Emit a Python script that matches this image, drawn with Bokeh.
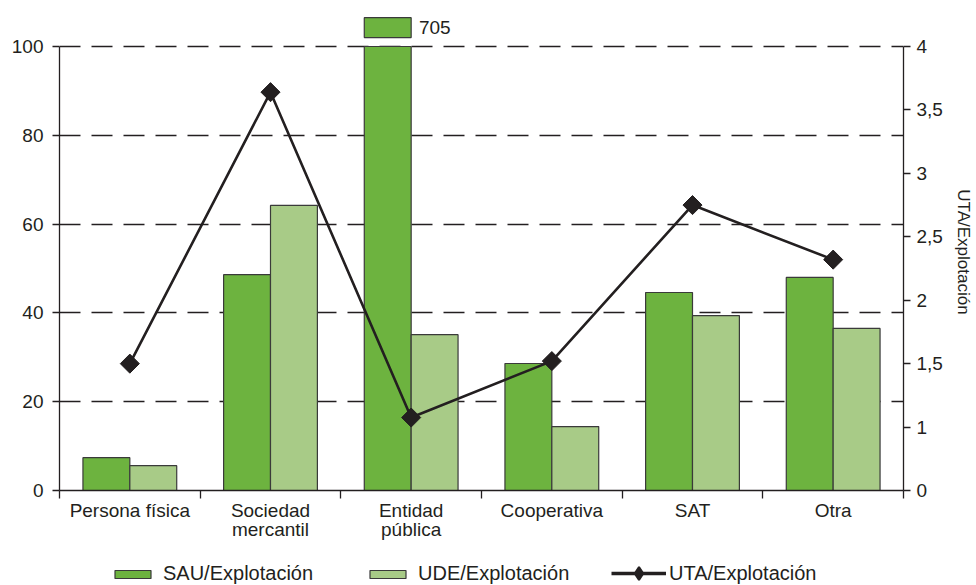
import numpy as np
from bokeh.plotting import figure
from bokeh.layouts import column
from bokeh.models import Range1d, LinearAxis, FixedTicker, Legend, LegendItem, ColumnDataSource
from bokeh.core.properties import value
from bokeh.embed import file_html
from bokeh.resources import INLINE

# ---------------- data ----------------
categories = ["Persona física", "Sociedad\nmercantil", "Entidad\npública",
              "Cooperativa", "SAT", "Otra"]
sau = [7.4, 48.6, 705, 28.6, 44.6, 48.0]      # SAU/Explotación
ude = [5.6, 64.2, 35.1, 14.4, 39.4, 36.5]     # UDE/Explotación
uta = [1.5, 3.64, 1.075, 1.52, 2.75, 2.32]    # UTA/Explotación (right axis)
series_names = ["SAU/Explotación", "UDE/Explotación", "UTA/Explotación"]
left_ticks = [0, 20, 40, 60, 80, 100]
right_ticks = [0.5, 1, 1.5, 2, 2.5, 3, 3.5, 4]
right_labels = ["0", "1", "1,5", "2", "2,5", "3", "3,5", "4"]
left_max = 100

# ---------------- styling ----------------
FONT = "Liberation Sans"
INK = "#231f20"
DARK = "#6db33f"
LIGHT = "#a8cb87"
EDGE = "#3a3a3a"

n = len(categories)
centers = np.arange(n) + 0.5
bw = 1.0 / 3.0
frame_h = 477
y_end = frame_h * left_max / 444.0
uta_end = 0.5 + frame_h * 3.5 / 444.0

p = figure(width=976, height=550, output_backend="svg", toolbar_location=None,
           x_range=Range1d(0, n), y_range=Range1d(0, y_end),
           min_border_left=59, min_border_right=73, min_border_top=13,
           min_border_bottom=60, x_axis_location="below")
p.outline_line_color = None
p.background_fill_color = "white"
p.border_fill_color = "white"
p.extra_y_ranges = {"uta": Range1d(0.5, uta_end)}

# grid
p.xgrid.visible = False
p.ygrid.ticker = FixedTicker(ticks=left_ticks[1:])
p.ygrid.grid_line_color = INK
p.ygrid.grid_line_width = 1.3
p.ygrid.grid_line_dash = "21 11"

# bars
sau_arr = np.array(sau, dtype=float)
src = ColumnDataSource(dict(
    xs=centers - bw / 2, xu=centers + bw / 2,
    sau_top=np.minimum(sau_arr, left_max), ude=ude, uta=uta, xc=centers))
bar_style = dict(line_color=EDGE, line_width=1.2)
p.vbar(x="xs", top="sau_top", width=bw, source=src, fill_color=DARK, **bar_style)
p.vbar(x="xu", top="ude", width=bw, source=src, fill_color=LIGHT, **bar_style)

# clipped bar marker
over = np.where(sau_arr > left_max)[0]
for i in over:
    cx = centers[i] - bw / 2
    p.quad(left=[cx - bw / 2], right=[cx + bw / 2], bottom=[left_max * 1.02],
           top=[left_max * 1.065], fill_color=DARK, **bar_style)
    p.text(x=[cx + bw / 2 + 0.055], y=[left_max * 1.043], text=[str(int(sau[i]))],
           text_baseline="middle", text_align="left", text_color=INK,
           text_font=value(FONT), text_font_size="19px")

# line
line_style = dict(line_color=INK, line_width=2.6)
pt_style = dict(marker="square", angle=np.pi / 4, size=13.5, fill_color=INK, line_color=INK)
p.line(x="xc", y="uta", source=src, y_range_name="uta", **line_style)
p.scatter(x="xc", y="uta", source=src, y_range_name="uta", **pt_style)

# left axis
ax = p.yaxis[0]
ax.ticker = FixedTicker(ticks=left_ticks)
ax.bounds = (0, left_max)
ax.major_tick_out = 7
ax.major_tick_in = 0
ax.minor_tick_line_color = None
ax.axis_line_color = INK
ax.axis_line_width = 1.3
ax.major_tick_line_color = INK
ax.major_tick_line_width = 1.3
ax.major_label_text_font = FONT
ax.major_label_text_font_size = "19px"
ax.major_label_text_color = INK
ax.major_label_standoff = 9

# right axis
rax = LinearAxis(y_range_name="uta", axis_label="UTA/Explotación")
rax.ticker = FixedTicker(ticks=right_ticks)
rax.major_label_overrides = {t: l for t, l in zip(right_ticks, right_labels)}
rax.bounds = (right_ticks[0], right_ticks[-1])
rax.major_tick_out = 7
rax.major_tick_in = 0
rax.minor_tick_line_color = None
rax.axis_line_color = INK
rax.axis_line_width = 1.3
rax.major_tick_line_color = INK
rax.major_tick_line_width = 1.3
rax.major_label_text_font = FONT
rax.major_label_text_font_size = "19px"
rax.major_label_text_color = INK
rax.major_label_standoff = 6
rax.axis_label_text_font = FONT
rax.axis_label_text_font_size = "17px"
rax.axis_label_text_font_style = "normal"
rax.axis_label_text_color = INK
rax.axis_label_standoff = 8
p.add_layout(rax, "right")

# bottom axis
bx = p.xaxis[0]
bx.ticker = FixedTicker(ticks=list(centers), minor_ticks=list(range(n + 1)))
bx.major_label_overrides = {float(c): lab for c, lab in zip(centers, categories)}
bx.bounds = (0, n)
bx.major_tick_out = 0
bx.major_tick_in = 0
bx.major_tick_line_color = None
bx.minor_tick_out = 8
bx.minor_tick_in = 0
bx.minor_tick_line_color = INK
bx.minor_tick_line_width = 1.3
bx.axis_line_color = INK
bx.axis_line_width = 1.3
bx.major_label_text_font = FONT
bx.major_label_text_font_size = "19px"
bx.major_label_text_color = INK
bx.major_label_text_line_height = 0.92
bx.major_label_standoff = 1

# ---------------- legend strip ----------------
# same data, placed far outside this strip's view so only the legend glyphs show
lg = figure(width=976, height=35, output_backend="svg", toolbar_location=None,
            x_range=Range1d(1000, 1001), y_range=Range1d(1000, 1001),
            x_axis_location=None, y_axis_location=None,
            min_border_left=0, min_border_right=0, min_border_top=0, min_border_bottom=0)
lg.outline_line_color = None
lg.xgrid.visible = False
lg.ygrid.visible = False
lg.border_fill_color = "white"
lg.background_fill_color = "white"
g_sau = lg.vbar(x="xs", top="sau_top", width=bw, source=src, fill_color=DARK, **bar_style)
g_ude = lg.vbar(x="xu", top="ude", width=bw, source=src, fill_color=LIGHT, **bar_style)
g_line = lg.line(x="xc", y="uta", source=src, line_color=INK, line_width=3.5)
g_pts = lg.scatter(x="xc", y="uta", source=src, marker="diamond",
                   fill_color=INK, line_color=INK, line_width=2)


def style_legend(lgd):
    lgd.label_standoff = 3
    lgd.spacing = 52
    lgd.padding = 0
    lgd.margin = 0
    lgd.border_line_color = None
    lgd.background_fill_alpha = 0
    lgd.label_text_font = FONT
    lgd.label_text_font_size = "20px"
    lgd.label_text_color = INK
    lgd.label_height = 20


leg_bars = Legend(items=[
    LegendItem(label=series_names[0], renderers=[g_sau]),
    LegendItem(label=series_names[1], renderers=[g_ude]),
], orientation="horizontal", location=(51, 0))
style_legend(leg_bars)
leg_bars.glyph_width = 45
leg_bars.glyph_height = 10
leg_bars.label_standoff = 8

leg_line = Legend(items=[
    LegendItem(label=series_names[2], renderers=[g_line, g_pts]),
], orientation="horizontal", location=(552, -4))
style_legend(leg_line)
leg_line.glyph_width = 55
leg_line.glyph_height = 32

lg.add_layout(leg_bars, "center")
lg.add_layout(leg_line, "center")

layout = column(p, lg, spacing=0)
open("out.html", "w").write(file_html(layout, INLINE))
